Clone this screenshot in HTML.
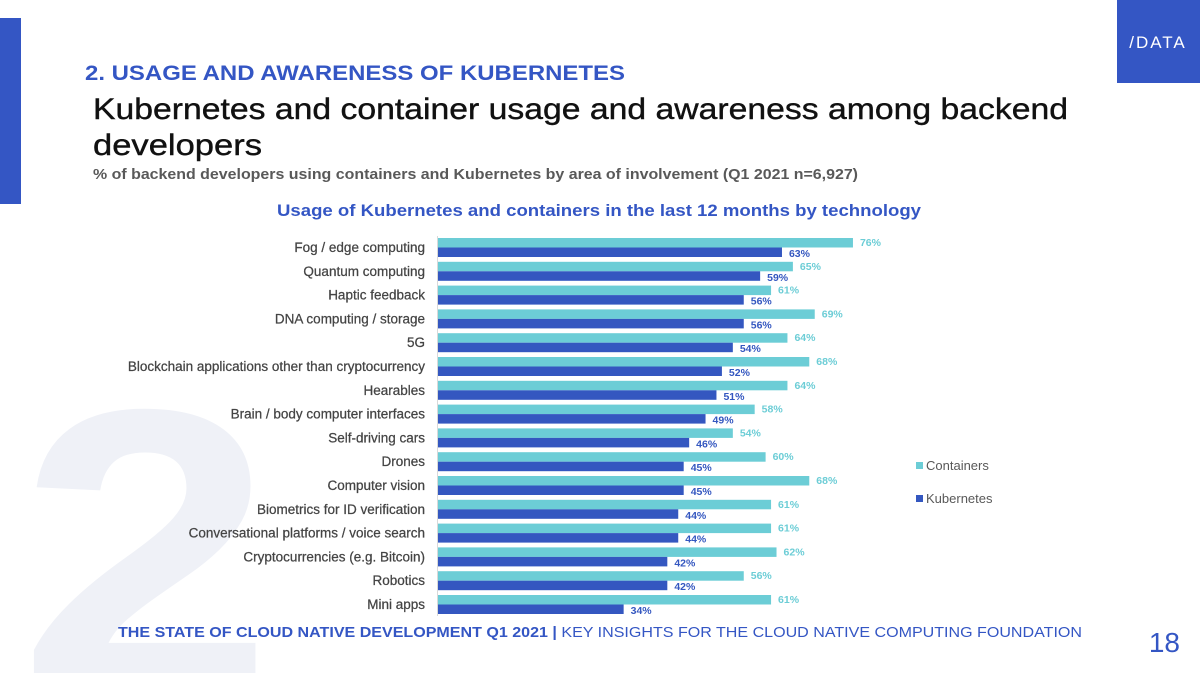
<!DOCTYPE html>
<html><head><meta charset="utf-8"><style>
html,body{margin:0;padding:0;background:#fff;width:1200px;height:673px;overflow:hidden;}
svg{display:block;font-family:"Liberation Sans",sans-serif;overflow:hidden;}
</style></head><body>
<svg id="s" width="1200" height="673" viewBox="0 0 1200 673">
<text x="0" y="0" font-size="400" font-weight="bold" fill="#eff1f7" transform="translate(18,688) scale(1.15,1)">2</text>
<rect x="0" y="18" width="21" height="186" fill="#3456c4"/>
<rect x="1117" y="0" width="83" height="83" fill="#3456c4"/>
<text x="1158" y="48" font-size="17" fill="#fff" text-anchor="middle" letter-spacing="2">/DATA</text>
<text x="85" y="80" font-size="21" font-weight="bold" fill="#3456c4" textLength="540" lengthAdjust="spacingAndGlyphs">2.  USAGE AND AWARENESS OF KUBERNETES</text>
<text x="93" y="119" font-size="30" fill="#111" stroke="#111" stroke-width="0.4" textLength="975" lengthAdjust="spacingAndGlyphs">Kubernetes and container usage and awareness among backend</text>
<text x="93" y="155" font-size="30" fill="#111" stroke="#111" stroke-width="0.4" textLength="169" lengthAdjust="spacingAndGlyphs">developers</text>
<text x="93" y="179" font-size="15" font-weight="bold" fill="#595959" textLength="765" lengthAdjust="spacingAndGlyphs">% of backend developers using containers and Kubernetes by area of involvement (Q1 2021 n=6,927)</text>
<text x="277" y="216" font-size="17" font-weight="bold" fill="#3456c4" textLength="644" lengthAdjust="spacingAndGlyphs">Usage of Kubernetes and containers in the last 12 months by technology</text>
<line x1="437.5" y1="236" x2="437.5" y2="616" stroke="#d9d9d9" stroke-width="1"/>
<g id="bars"></g>
<rect x="916" y="462" width="7" height="7" fill="#6ccdd6"/>
<text x="926" y="470" font-size="13" fill="#595959">Containers</text>
<rect x="916" y="495" width="7" height="7" fill="#3457c0"/>
<text x="926" y="503" font-size="13" fill="#595959">Kubernetes</text>
<text x="118" y="637" font-size="15" fill="#3456c4" textLength="964" lengthAdjust="spacingAndGlyphs"><tspan font-weight="bold">THE STATE OF CLOUD NATIVE DEVELOPMENT Q1 2021 | </tspan>KEY INSIGHTS  FOR THE CLOUD NATIVE COMPUTING FOUNDATION</text>
<text x="1180" y="652" font-size="28" fill="#3456c4" text-anchor="end">18</text>
</svg>
<script>
const categories = ["Fog / edge computing","Quantum computing","Haptic feedback","DNA computing / storage","5G","Blockchain applications other than cryptocurrency","Hearables","Brain / body computer interfaces","Self-driving cars","Drones","Computer vision","Biometrics for ID verification","Conversational platforms / voice search","Cryptocurrencies (e.g. Bitcoin)","Robotics","Mini apps"];
const containers = [76,65,61,69,64,68,64,58,54,60,68,61,61,62,56,61];
const kubernetes = [63,59,56,56,54,52,51,49,46,45,45,44,44,42,42,34];
const NS = "http://www.w3.org/2000/svg";
const g = document.getElementById("bars");
const x0 = 438, pxPer = 5.46, y0 = 247, step = 23.8;
const xs = v => x0 + v * pxPer;
const ys = i => y0 + i * step;
function mk(tag, attrs){const e=document.createElementNS(NS,tag);for(const k in attrs)e.setAttribute(k,attrs[k]);return e;}
categories.forEach((c,i)=>{
  const y = ys(i);
  const lab = mk("text",{x:425,y:y+5,"font-size":13.5,fill:"#444",stroke:"#444","stroke-width":0.25,"text-anchor":"end"});
  
  
  lab.textContent = c; g.appendChild(lab);
  const b1 = mk("rect",{x:x0,y:y-9,width:xs(containers[i])-x0,height:9.5,fill:"#6ccdd6"});
  
  
  g.appendChild(b1);
  const b2 = mk("rect",{x:x0,y:y+0.5,width:xs(kubernetes[i])-x0,height:9.5,fill:"#3457c0"});
  
  
  g.appendChild(b2);
  const t1 = mk("text",{x:xs(containers[i])+7,y:y-1,"font-size":10.5,"font-weight":"bold",fill:"#6ccdd6"});
  
  
  t1.textContent = containers[i]+"%"; g.appendChild(t1);
  const t2 = mk("text",{x:xs(kubernetes[i])+7,y:y+10,"font-size":10.5,"font-weight":"bold",fill:"#3457c0"});
  
  
  t2.textContent = kubernetes[i]+"%"; g.appendChild(t2);
});
</script>
</body></html>
